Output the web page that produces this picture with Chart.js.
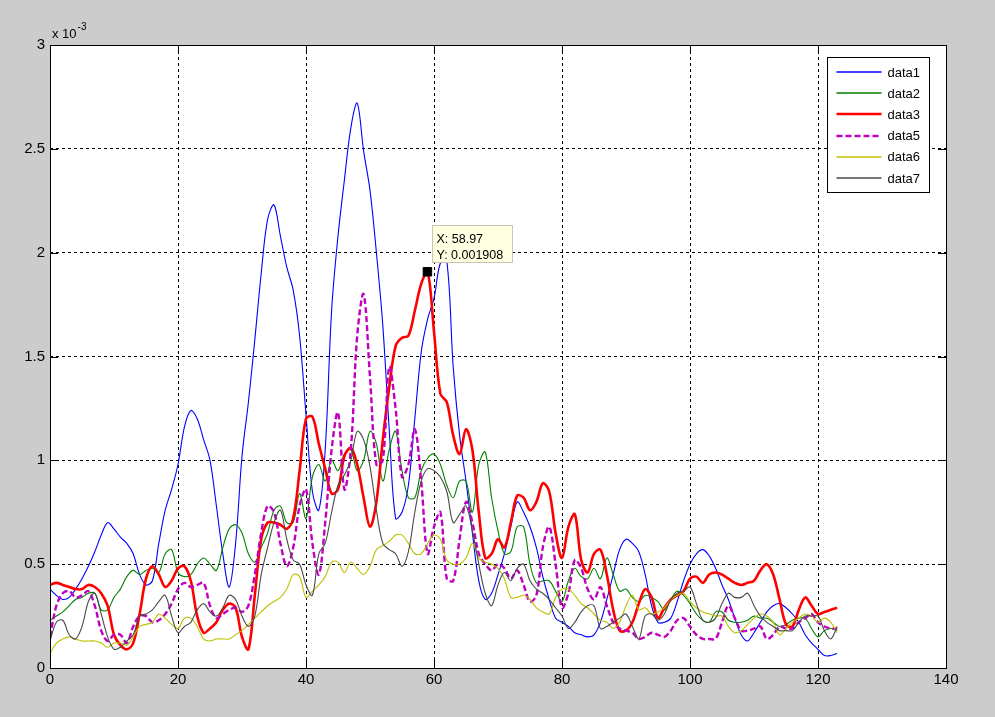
<!DOCTYPE html>
<html>
<head>
<meta charset="utf-8">
<script src="https://cdn.jsdelivr.net/npm/chart.js@4.4.1/dist/chart.umd.min.js"></script>
<style>
  html, body { margin: 0; padding: 0; background: #cccccc; overflow: hidden; }
  canvas { display: block; }
</style>
</head>
<body>
<canvas id="chart" width="995" height="717"></canvas>
<script>
// Sample positions shared by every trace
const sampleX = [
  0,1,2,3,4,5,6,7,8,9,10,11,12,13,14,15,16,17,18,19,
  20,21,22,23,24,25,26,27,28,29,30,31,32,33,34,35,36,37,38,39,
  40,41,42,43,44,45,46,47,48,49,50,51,52,53,54,55,56,57,58,59,
  60,61,62,63,64,65,66,67,68,69,70,71,72,73,74,75,76,77,78,79,
  80,81,82,83,84,85,86,87,88,89,90,91,92,93,94,95,96,97,98,99,
  100,101,102,103,104,105,106,107,108,109,110,111,112,113,114,115,116,117,118,119,
  120,121,122,123
];

// Trace values, in units of 10^-3
const data1 = [
  0.38,0.35,0.33,0.34,0.38,0.43,0.49,0.56,0.64,0.70,
  0.67,0.63,0.60,0.55,0.45,0.40,0.42,0.60,0.76,0.86,
  0.98,1.16,1.24,1.20,1.10,1.00,0.78,0.55,0.39,0.60,
  1.02,1.28,1.58,1.90,2.16,2.23,2.08,1.93,1.82,1.60,
  1.22,0.85,0.76,1.05,1.72,2.08,2.35,2.60,2.72,2.49,
  2.30,2.00,1.65,1.15,0.72,0.75,0.88,1.20,1.52,1.68,
  1.78,1.95,1.96,1.45,1.12,0.90,0.65,0.42,0.33,0.36,
  0.45,0.55,0.68,0.80,0.75,0.68,0.58,0.44,0.33,0.24,
  0.22,0.20,0.17,0.16,0.15,0.16,0.22,0.33,0.45,0.57,
  0.62,0.60,0.56,0.45,0.30,0.22,0.22,0.24,0.32,0.42,
  0.50,0.55,0.57,0.54,0.48,0.40,0.33,0.24,0.16,0.13,
  0.17,0.22,0.27,0.30,0.31,0.29,0.26,0.22,0.16,0.12,
  0.09,0.06,0.06,0.07
];
const data2 = [
  0.23,0.25,0.27,0.30,0.33,0.34,0.36,0.36,0.28,0.28,
  0.34,0.38,0.44,0.47,0.45,0.47,0.48,0.46,0.55,0.57,
  0.46,0.44,0.45,0.50,0.53,0.50,0.47,0.58,0.67,0.69,
  0.65,0.55,0.51,0.58,0.65,0.76,0.78,0.70,0.70,0.84,
  0.72,0.92,0.98,0.90,1.00,0.95,1.03,1.05,0.95,1.00,
  1.14,1.08,0.90,1.05,1.14,0.95,0.82,0.82,0.95,1.01,
  1.03,0.98,0.88,0.82,0.90,0.90,0.75,0.98,1.04,0.82,
  0.66,0.55,0.56,0.68,0.68,0.50,0.41,0.42,0.42,0.37,
  0.32,0.42,0.48,0.44,0.43,0.48,0.43,0.53,0.45,0.37,
  0.38,0.34,0.32,0.35,0.34,0.32,0.28,0.33,0.37,0.35,
  0.31,0.26,0.23,0.22,0.27,0.27,0.23,0.22,0.22,0.23,
  0.25,0.24,0.24,0.22,0.20,0.21,0.23,0.24,0.24,0.19,
  0.15,0.18,0.19,0.18
];
const data3 = [
  0.40,0.41,0.40,0.39,0.38,0.38,0.40,0.39,0.36,0.30,
  0.16,0.11,0.09,0.12,0.26,0.43,0.49,0.45,0.39,0.42,
  0.48,0.49,0.42,0.25,0.17,0.19,0.22,0.28,0.31,0.29,
  0.15,0.09,0.35,0.62,0.70,0.70,0.69,0.67,0.72,0.95,
  1.20,1.21,1.08,0.96,0.84,0.86,1.02,1.06,0.98,0.82,
  0.68,0.80,1.10,1.35,1.55,1.59,1.60,1.72,1.85,1.908,
  1.62,1.32,1.28,1.12,1.03,1.15,1.05,0.75,0.53,0.55,
  0.62,0.58,0.70,0.83,0.82,0.76,0.80,0.89,0.85,0.65,
  0.53,0.68,0.74,0.52,0.46,0.55,0.57,0.45,0.28,0.18,
  0.18,0.22,0.31,0.38,0.34,0.24,0.29,0.33,0.35,0.37,
  0.43,0.44,0.41,0.45,0.46,0.45,0.43,0.41,0.40,0.41,
  0.42,0.47,0.50,0.45,0.33,0.21,0.20,0.28,0.34,0.30,
  0.26,0.27,0.28,0.29
];
const data5 = [
  0.15,0.30,0.36,0.37,0.34,0.35,0.37,0.30,0.18,0.13,
  0.16,0.16,0.12,0.20,0.25,0.25,0.22,0.23,0.26,0.31,
  0.38,0.41,0.39,0.40,0.41,0.30,0.24,0.26,0.28,0.29,
  0.27,0.30,0.45,0.65,0.78,0.75,0.60,0.49,0.58,0.78,
  0.86,0.60,0.45,0.70,1.05,1.23,0.86,1.05,1.60,1.80,
  1.40,0.98,1.00,1.45,1.25,0.92,0.98,1.15,0.90,0.55,
  0.68,0.75,0.43,0.42,0.62,0.80,0.70,0.55,0.50,0.47,
  0.50,0.48,0.43,0.47,0.40,0.32,0.35,0.58,0.68,0.50,
  0.29,0.36,0.52,0.48,0.38,0.33,0.39,0.30,0.22,0.19,
  0.18,0.17,0.14,0.15,0.17,0.16,0.15,0.18,0.23,0.24,
  0.20,0.16,0.14,0.14,0.14,0.22,0.30,0.24,0.18,0.18,
  0.19,0.20,0.14,0.16,0.20,0.19,0.19,0.22,0.24,0.26,
  0.22,0.20,0.19,0.19
];
const data6 = [
  0.07,0.12,0.14,0.15,0.14,0.13,0.13,0.13,0.12,0.10,
  0.12,0.12,0.11,0.15,0.20,0.21,0.22,0.26,0.24,0.21,
  0.19,0.24,0.24,0.20,0.14,0.13,0.14,0.14,0.14,0.16,
  0.18,0.21,0.24,0.27,0.30,0.32,0.34,0.38,0.45,0.44,
  0.34,0.37,0.40,0.44,0.51,0.51,0.46,0.51,0.48,0.45,
  0.49,0.57,0.59,0.61,0.64,0.64,0.60,0.55,0.55,0.60,
  0.64,0.62,0.52,0.50,0.50,0.53,0.60,0.53,0.51,0.50,
  0.48,0.43,0.34,0.34,0.35,0.33,0.29,0.27,0.26,0.34,
  0.38,0.38,0.35,0.31,0.29,0.26,0.23,0.22,0.19,0.22,
  0.30,0.35,0.28,0.29,0.26,0.27,0.29,0.33,0.35,0.36,
  0.32,0.29,0.27,0.26,0.25,0.25,0.20,0.17,0.18,0.21,
  0.24,0.26,0.25,0.22,0.16,0.19,0.22,0.24,0.26,0.25,
  0.22,0.24,0.22,0.17
];
const data7 = [
  0.13,0.22,0.23,0.16,0.14,0.20,0.32,0.36,0.26,0.15,
  0.09,0.10,0.13,0.16,0.25,0.26,0.28,0.32,0.35,0.25,
  0.17,0.20,0.22,0.28,0.31,0.27,0.25,0.29,0.35,0.33,
  0.25,0.20,0.25,0.45,0.58,0.70,0.76,0.62,0.52,0.50,
  0.40,0.35,0.55,0.60,0.75,0.88,0.93,1.00,1.14,1.10,
  0.97,0.76,0.60,0.57,0.55,0.49,0.56,0.75,0.90,0.96,
  0.95,0.92,0.85,0.70,0.74,0.78,0.66,0.50,0.36,0.30,
  0.40,0.46,0.42,0.48,0.50,0.42,0.38,0.36,0.33,0.29,
  0.25,0.19,0.22,0.27,0.30,0.30,0.19,0.20,0.22,0.24,
  0.26,0.20,0.14,0.25,0.26,0.23,0.26,0.33,0.36,0.37,
  0.39,0.31,0.23,0.22,0.24,0.31,0.36,0.34,0.34,0.36,
  0.30,0.25,0.22,0.20,0.18,0.18,0.18,0.22,0.25,0.25,
  0.25,0.18,0.14,0.20
];

const seriesNames = ['data1', 'data2', 'data3', 'data5', 'data6', 'data7'];
const seriesValues = [data1, data2, data3, data5, data6, data7];

// Axis ranges and ticks
const xTickStep = 20, xMin = 0, xMax = 140;
const yTickStep = 0.5, yMin = 0, yMax = 3;
const yExponent = -3;

// Data cursor
const tipX = 58.97;
const tipY = 0.001908;

const styles = [
  { color: '#0000ff', width: 1.1, legendWidth: 1.6, dash: [] },
  { color: '#008000', width: 1.1, legendWidth: 1.6, dash: [] },
  { color: '#ff0000', width: 2.6, legendWidth: 2.6, dash: [] },
  { color: '#bf00bf', width: 2.4, legendWidth: 2.4, dash: [6, 3] },
  { color: '#bfbf00', width: 1.1, legendWidth: 1.6, dash: [] },
  { color: '#4a4a4a', width: 1.1, legendWidth: 1.6, dash: [] }
];

const FONT = '"Liberation Sans", Arial, sans-serif';

const datasets = seriesValues.map((vals, i) => ({
  label: seriesNames[i],
  data: sampleX.map((x, k) => ({ x: x, y: vals[k] })),
  borderColor: styles[i].color,
  borderWidth: styles[i].width,
  borderDash: styles[i].dash,
  pointRadius: 0,
  tension: 0.35,
  fill: false,
  order: seriesValues.length - i
}));

datasets.push({
  label: 'cursor',
  type: 'scatter',
  data: [{ x: tipX, y: tipY / Math.pow(10, yExponent) }],
  pointStyle: 'rect',
  pointRadius: 6,
  backgroundColor: '#000000',
  borderColor: '#000000',
  borderWidth: 1,
  order: 0
});

const figurePlugin = {
  id: 'figure',
  beforeDraw(chart) {
    const { ctx, chartArea: a } = chart;
    ctx.save();
    ctx.fillStyle = '#cccccc';
    ctx.fillRect(0, 0, chart.width, chart.height);
    ctx.fillStyle = '#ffffff';
    ctx.fillRect(a.left, a.top, a.right - a.left, a.bottom - a.top);
    ctx.restore();
  },
  afterDatasetsDraw(chart) {
    const { ctx, chartArea: a, scales } = chart;
    const al = v => Math.round(v) + 0.5;
    ctx.save();
    ctx.strokeStyle = '#000000';
    ctx.lineWidth = 1;
    ctx.setLineDash([]);
    // box
    ctx.strokeRect(al(a.left), al(a.top), Math.round(a.right - a.left), Math.round(a.bottom - a.top));
    // inward tick marks on all four sides
    const tl = 8;
    ctx.beginPath();
    for (let v = xMin + xTickStep; v < xMax; v += xTickStep) {
      const px = al(scales.x.getPixelForValue(v));
      ctx.moveTo(px, a.bottom); ctx.lineTo(px, a.bottom - tl);
      ctx.moveTo(px, a.top); ctx.lineTo(px, a.top + tl);
    }
    for (let v = yMin + yTickStep; v < yMax; v += yTickStep) {
      const py = al(scales.y.getPixelForValue(v));
      ctx.moveTo(a.left, py); ctx.lineTo(a.left + tl, py);
      ctx.moveTo(a.right, py); ctx.lineTo(a.right - tl, py);
    }
    ctx.stroke();
    ctx.restore();
  },
  afterDraw(chart) {
    const { ctx, chartArea: a, scales } = chart;
    ctx.save();

    // exponent label above the y axis
    ctx.fillStyle = '#000000';
    ctx.textBaseline = 'alphabetic';
    ctx.textAlign = 'left';
    ctx.font = '13px ' + FONT;
    ctx.fillText('x 10', a.left + 2, a.top - 7);
    const w = ctx.measureText('x 10').width;
    ctx.font = '10px ' + FONT;
    ctx.fillText(String(yExponent), a.left + 3 + w, a.top - 15);

    // legend
    const bx = Math.round(a.right - 119) + 0.5;
    const by = Math.round(a.top + 12) + 0.5;
    const bw = 102, bh = 135;
    ctx.fillStyle = '#ffffff';
    ctx.fillRect(bx, by, bw, bh);
    ctx.strokeStyle = '#000000';
    ctx.lineWidth = 1;
    ctx.strokeRect(bx, by, bw, bh);
    ctx.font = '13px ' + FONT;
    ctx.textBaseline = 'middle';
    seriesNames.forEach((name, i) => {
      const ry = by + 14.5 + 21.2 * i;
      ctx.beginPath();
      ctx.strokeStyle = styles[i].color;
      ctx.lineWidth = styles[i].legendWidth;
      ctx.setLineDash(styles[i].dash);
      ctx.moveTo(bx + 9, Math.round(ry));
      ctx.lineTo(bx + 54, Math.round(ry));
      ctx.stroke();
      ctx.setLineDash([]);
      ctx.fillStyle = '#000000';
      ctx.fillText(name, bx + 60, ry + 1);
    });

    // data cursor box
    const mx = scales.x.getPixelForValue(tipX);
    const my = scales.y.getPixelForValue(tipY / Math.pow(10, yExponent));
    const tx = Math.round(mx + 5) + 0.5;
    const ty = Math.round(my - 47) + 0.5;
    ctx.fillStyle = '#ffffe1';
    ctx.fillRect(tx, ty, 80, 37);
    ctx.strokeStyle = '#c8c8b4';
    ctx.lineWidth = 1;
    ctx.strokeRect(tx, ty, 80, 37);
    ctx.fillStyle = '#000000';
    ctx.font = '12.5px ' + FONT;
    ctx.textBaseline = 'alphabetic';
    ctx.fillText('X: ' + String(tipX), tx + 4, ty + 17);
    ctx.fillText('Y: ' + String(tipY), tx + 4, ty + 33);

    ctx.restore();
  }
};

new Chart(document.getElementById('chart'), {
  type: 'line',
  data: { datasets: datasets },
  options: {
    responsive: false,
    devicePixelRatio: 1,
    animation: false,
    events: [],
    layout: { padding: { left: 0, top: 45, right: 49, bottom: 0 } },
    plugins: {
      legend: { display: false },
      tooltip: { enabled: false },
      title: { display: false }
    },
    scales: {
      x: {
        type: 'linear',
        min: xMin,
        max: xMax,
        afterFit: s => { s.height = 49; },
        ticks: {
          stepSize: xTickStep,
          color: '#000000',
          font: { family: FONT, size: 15 },
          padding: 3,
          maxRotation: 0,
          autoSkip: false
        },
        grid: { color: '#000000', lineWidth: 1, drawTicks: false },
        border: { display: false, dash: [3, 3] }
      },
      y: {
        type: 'linear',
        min: yMin,
        max: yMax,
        afterFit: s => { s.width = 50; },
        ticks: {
          stepSize: yTickStep,
          color: '#000000',
          font: { family: FONT, size: 15 },
          padding: 5,
          callback: v => String(v)
        },
        grid: { color: '#000000', lineWidth: 1, drawTicks: false },
        border: { display: false, dash: [3, 3] }
      }
    }
  },
  plugins: [figurePlugin]
});
</script>
</body>
</html>
